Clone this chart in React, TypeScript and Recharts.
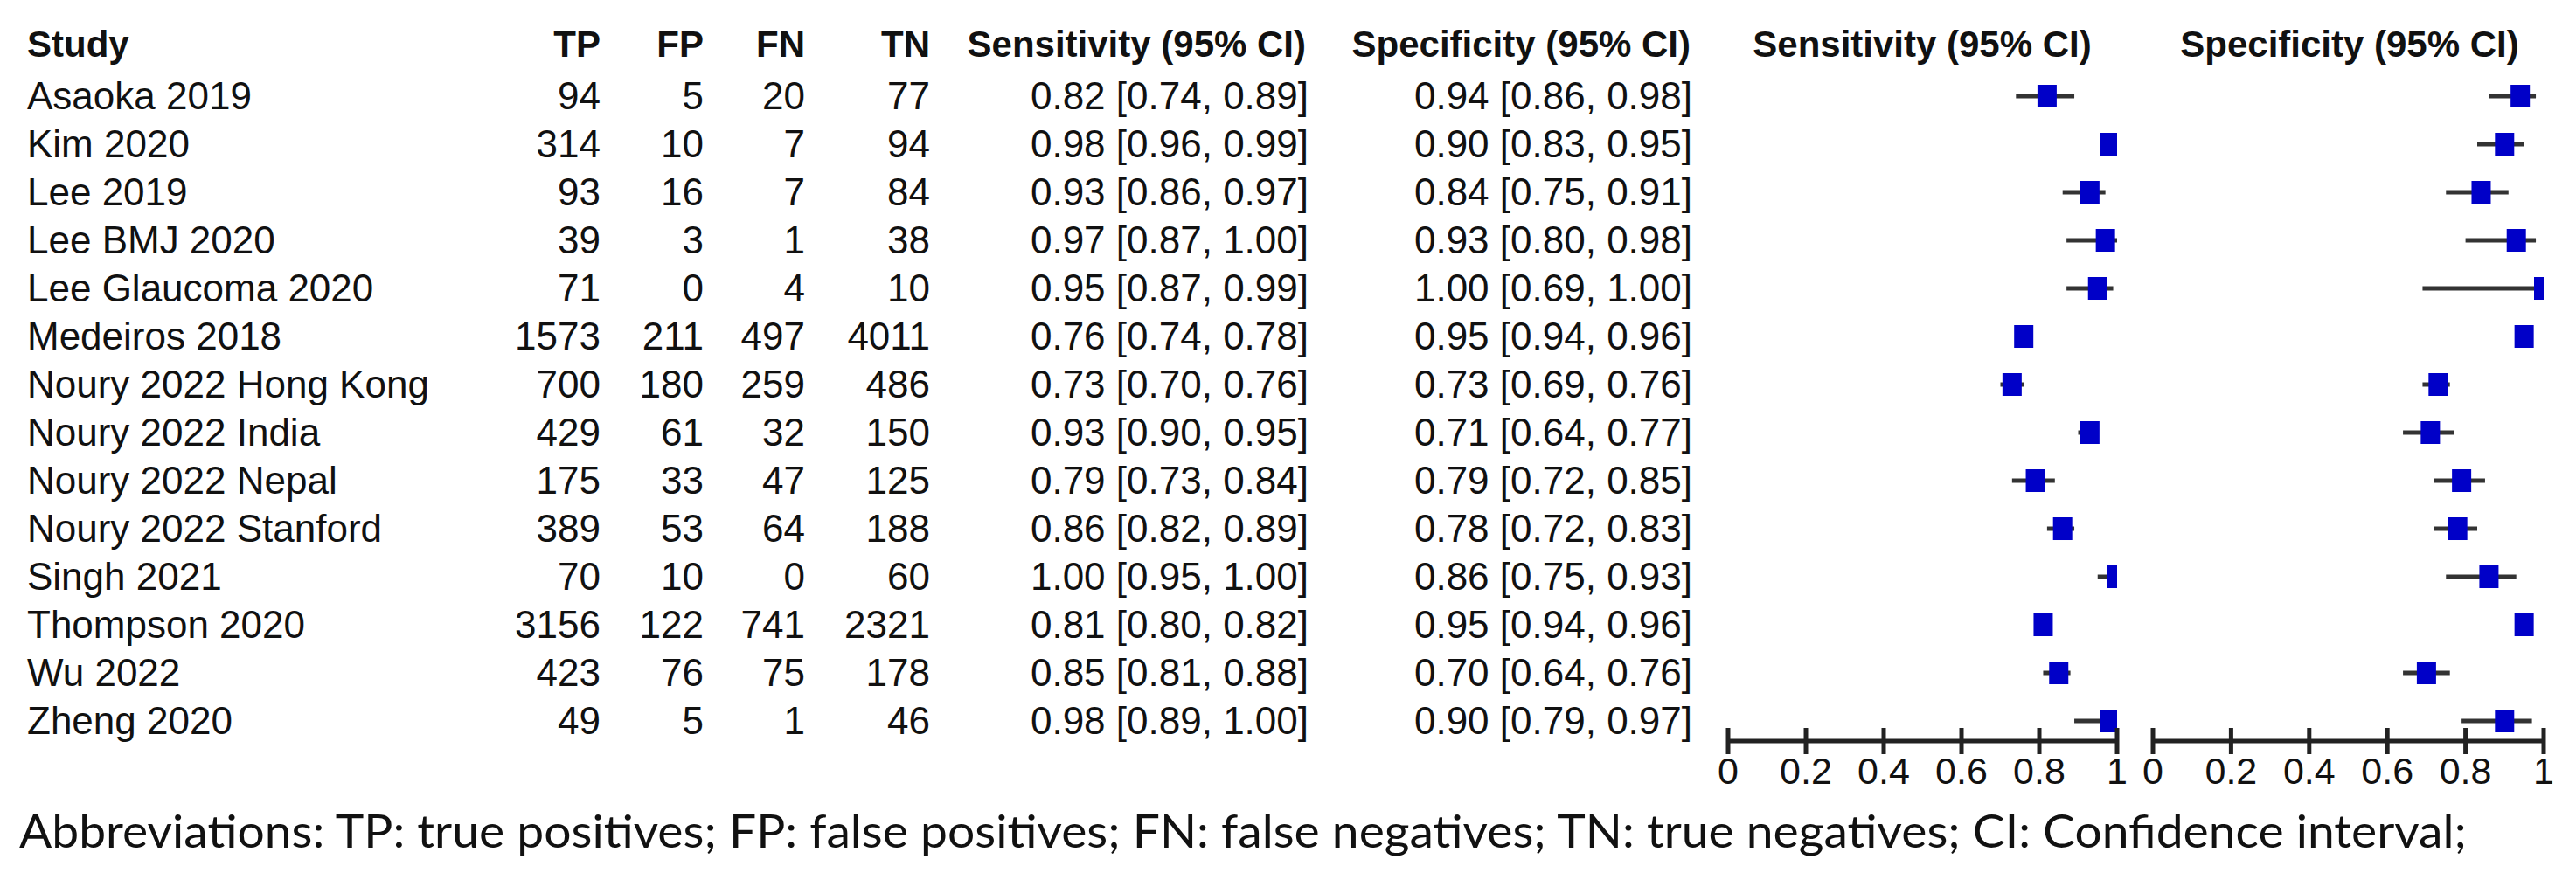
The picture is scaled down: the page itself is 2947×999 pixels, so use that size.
import React from 'react';
import { ScatterChart, Scatter, XAxis, YAxis, ErrorBar } from 'recharts';

const studies = [
  'Asaoka 2019', 'Kim 2020', 'Lee 2019', 'Lee BMJ 2020', 'Lee Glaucoma 2020', 'Medeiros 2018',
  'Noury 2022 Hong Kong', 'Noury 2022 India', 'Noury 2022 Nepal', 'Noury 2022 Stanford',
  'Singh 2021', 'Thompson 2020', 'Wu 2022', 'Zheng 2020',
];
const tp = [94, 314, 93, 39, 71, 1573, 700, 429, 175, 389, 70, 3156, 423, 49];
const fp = [5, 10, 16, 3, 0, 211, 180, 61, 33, 53, 10, 122, 76, 5];
const fn = [20, 7, 7, 1, 4, 497, 259, 32, 47, 64, 0, 741, 75, 1];
const tn = [77, 94, 84, 38, 10, 4011, 486, 150, 125, 188, 60, 2321, 178, 46];
const sens = [0.82, 0.98, 0.93, 0.97, 0.95, 0.76, 0.73, 0.93, 0.79, 0.86, 1.0, 0.81, 0.85, 0.98];
const sensLo = [0.74, 0.96, 0.86, 0.87, 0.87, 0.74, 0.7, 0.9, 0.73, 0.82, 0.95, 0.8, 0.81, 0.89];
const sensHi = [0.89, 0.99, 0.97, 1.0, 0.99, 0.78, 0.76, 0.95, 0.84, 0.89, 1.0, 0.82, 0.88, 1.0];
const spec = [0.94, 0.9, 0.84, 0.93, 1.0, 0.95, 0.73, 0.71, 0.79, 0.78, 0.86, 0.95, 0.7, 0.9];
const specLo = [0.86, 0.83, 0.75, 0.8, 0.69, 0.94, 0.69, 0.64, 0.72, 0.72, 0.75, 0.94, 0.64, 0.79];
const specHi = [0.98, 0.95, 0.91, 0.98, 1.0, 0.96, 0.76, 0.77, 0.85, 0.83, 0.93, 0.96, 0.76, 0.97];
const axisTicks = [0, 0.2, 0.4, 0.6, 0.8, 1];
const columnHeaders = ['Study', 'TP', 'FP', 'FN', 'TN', 'Sensitivity (95% CI)', 'Specificity (95% CI)'];
const plotHeaders = ['Sensitivity (95% CI)', 'Specificity (95% CI)'];
const footnote =
  'Abbreviations: TP: true positives; FP: false positives; FN: false negatives; TN: true negatives; CI: Confidence interval;';

const rowIdx = studies.map((_, i) => i);
const ROW_DOMAIN: [number, number] = [-0.5, 13.418];
const fmt = (v: number) => v.toFixed(2);
const ciText = (e: number, l: number, h: number) => `${fmt(e)} [${fmt(l)}, ${fmt(h)}]`;

const sensData = studies.map((s, i) => ({ y: i, x: sens[i], err: [sens[i] - sensLo[i], sensHi[i] - sens[i]] }));
const specData = studies.map((s, i) => ({ y: i, x: spec[i], err: [spec[i] - specLo[i], specHi[i] - spec[i]] }));

const TXT = '#111';
const SQ = '#0000C8';
const FONT = '"Liberation Sans", Arial, sans-serif';

const COLS = { study: 31, tp: 687, fp: 805, fn: 921, tn: 1064, sens: 1497, spec: 1936 };

const TableTick = (props: any) => {
  const { y, payload } = props;
  const i = payload.value as number;
  const by = y + 15;
  const common = { fontFamily: FONT, fontSize: 44, fill: TXT } as any;
  return (
    <g>
      <text x={COLS.study} y={by} {...common}>{studies[i]}</text>
      <text x={COLS.tp} y={by} textAnchor="end" {...common}>{tp[i]}</text>
      <text x={COLS.fp} y={by} textAnchor="end" {...common}>{fp[i]}</text>
      <text x={COLS.fn} y={by} textAnchor="end" {...common}>{fn[i]}</text>
      <text x={COLS.tn} y={by} textAnchor="end" {...common}>{tn[i]}</text>
      <text x={COLS.sens} y={by} textAnchor="end" {...common}>{ciText(sens[i], sensLo[i], sensHi[i])}</text>
      <text x={COLS.spec} y={by} textAnchor="end" {...common}>{ciText(spec[i], specLo[i], specHi[i])}</text>
    </g>
  );
};

const AxisTick = (props: any) => {
  const { x, y, payload } = props;
  return (
    <g>
      <line x1={x} x2={x} y1={y - 15} y2={y + 15} stroke="#222" strokeWidth={5} />
      <text x={x} y={y + 49} textAnchor="middle" fontFamily={FONT} fontSize={43} fill={TXT}>
        {String(payload.value)}
      </text>
    </g>
  );
};

const renderNone = () => <g />;
const renderSquare = (p: any) => <rect x={p.cx - 11} y={p.cy - 13} width={22} height={26} fill={SQ} />;

const xAxisProps = {
  type: 'number' as const,
  dataKey: 'x',
  domain: [0, 1],
  ticks: axisTicks,
  allowDataOverflow: true,
  height: 60,
  tickSize: 0,
  tickMargin: 0,
  tickLine: false,
  interval: 0,
  axisLine: { stroke: '#222', strokeWidth: 5 },
  tick: AxisTick,
};

export default function App() {
  return (
    <div style={{ position: 'absolute', left: 0, top: 0, width: 2947, height: 999, background: '#fff', overflow: 'hidden' }}>
      <div style={{ position: 'absolute', left: 0, top: 0 }}>
        <ScatterChart width={2452} height={999} margin={{ top: 82.5, right: 30, bottom: 91, left: 0 }}>
          <XAxis {...(xAxisProps as any)} />
          <YAxis
            type="number"
            dataKey="y"
            domain={ROW_DOMAIN}
            reversed
            allowDataOverflow
            width={1977}
            ticks={rowIdx}
            interval={0}
            tickLine={false}
            axisLine={false}
            tick={TableTick}
          />
          <Scatter data={sensData} shape={renderNone} isAnimationActive={false}>
            <ErrorBar dataKey="err" direction="x" width={0} stroke="#333" strokeWidth={5} isAnimationActive={false} />
          </Scatter>
          <Scatter data={sensData} shape={renderSquare} isAnimationActive={false} />
        </ScatterChart>
      </div>
      <div style={{ position: 'absolute', left: 2433, top: 0 }}>
        <ScatterChart width={507} height={999} margin={{ top: 82.5, right: 30, bottom: 91, left: 30 }}>
          <XAxis {...(xAxisProps as any)} />
          <YAxis type="number" dataKey="y" domain={ROW_DOMAIN} reversed allowDataOverflow hide />
          <Scatter data={specData} shape={renderNone} isAnimationActive={false}>
            <ErrorBar dataKey="err" direction="x" width={0} stroke="#333" strokeWidth={5} isAnimationActive={false} />
          </Scatter>
          <Scatter data={specData} shape={renderSquare} isAnimationActive={false} />
        </ScatterChart>
      </div>
      <svg width={2947} height={999} style={{ position: 'absolute', left: 0, top: 0, pointerEvents: 'none' }}>
        <g fontFamily={FONT} fontSize={42} fontWeight="bold" fill={TXT}>
          <text x={COLS.study} y={65}>{columnHeaders[0]}</text>
          <text x={COLS.tp} y={65} textAnchor="end">{columnHeaders[1]}</text>
          <text x={COLS.fp} y={65} textAnchor="end">{columnHeaders[2]}</text>
          <text x={COLS.fn} y={65} textAnchor="end">{columnHeaders[3]}</text>
          <text x={COLS.tn} y={65} textAnchor="end">{columnHeaders[4]}</text>
          <text x={1494} y={65} textAnchor="end">{columnHeaders[5]}</text>
          <text x={1934} y={65} textAnchor="end">{columnHeaders[6]}</text>
          <text x={2199} y={65} textAnchor="middle">{plotHeaders[0]}</text>
          <text x={2688} y={65} textAnchor="middle">{plotHeaders[1]}</text>
        </g>
        <text x={22} y={970} fontFamily="Lato, 'Open Sans', sans-serif" fontSize={53} fill={TXT} textLength={2800} lengthAdjust="spacingAndGlyphs">
          {footnote}
        </text>
      </svg>
    </div>
  );
}
